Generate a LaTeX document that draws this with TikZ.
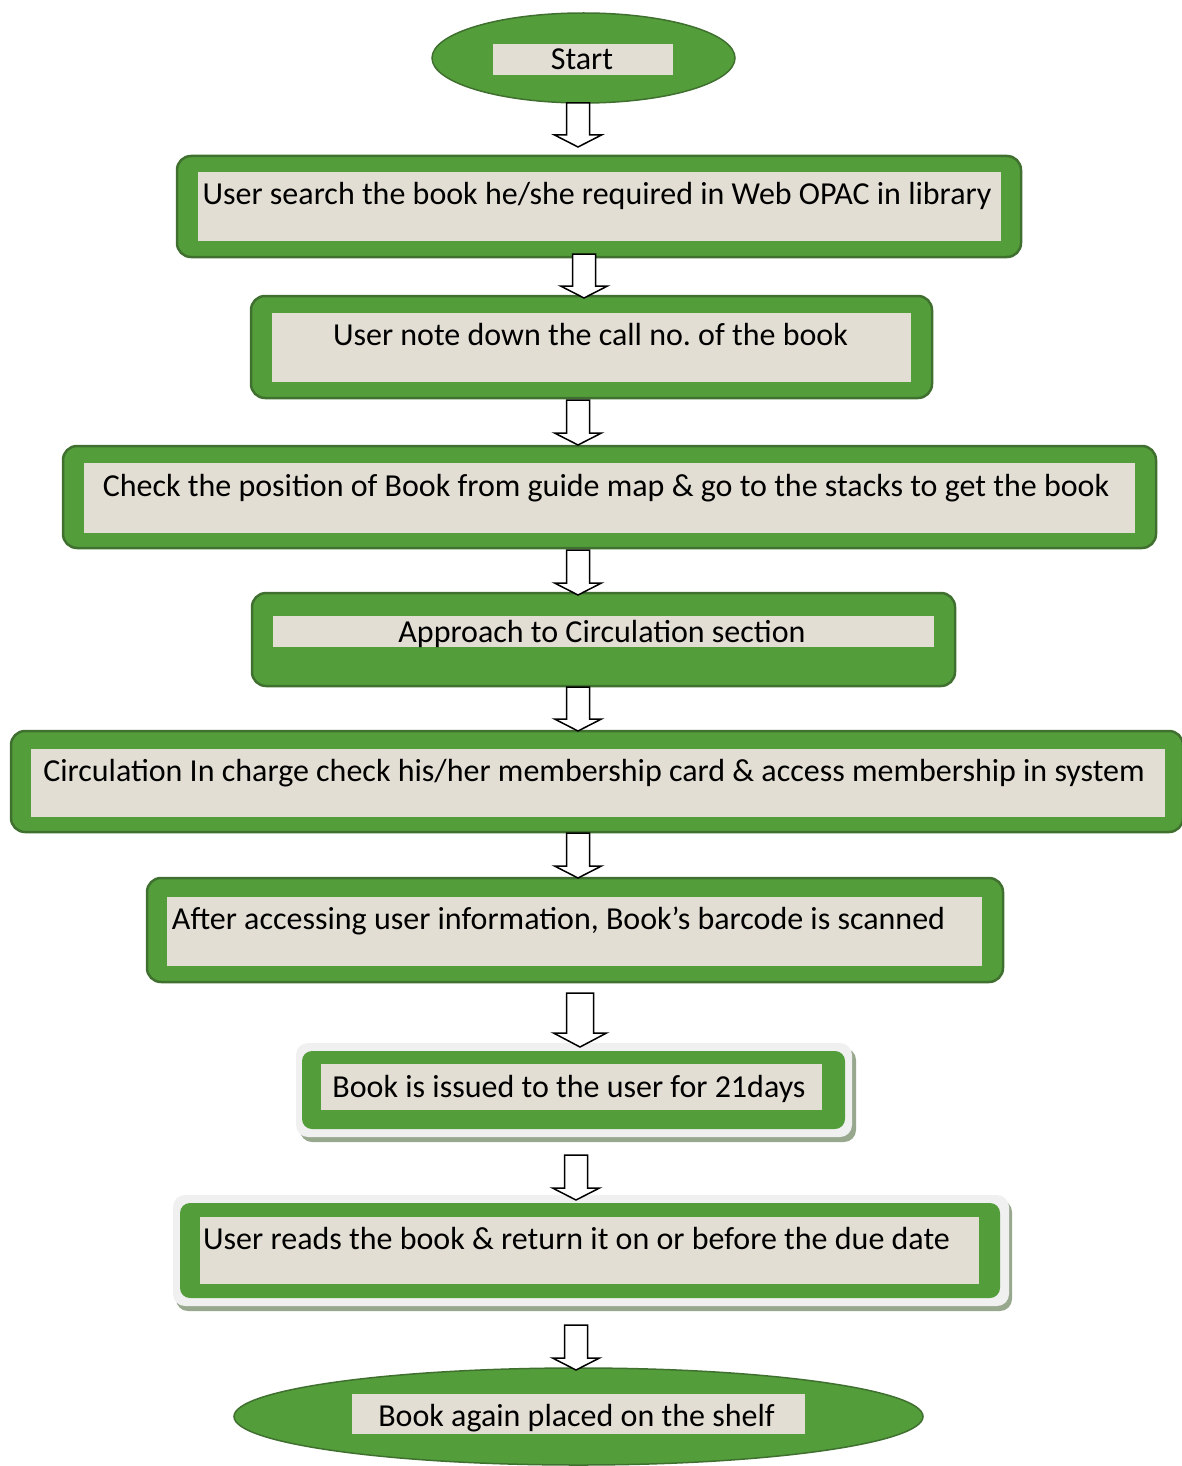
\documentclass[tikz,border=0pt]{standalone}
\usepackage{fontspec}
\setmainfont{Carlito}
\frenchspacing
\usetikzlibrary{shapes.geometric,calc}
\definecolor{gfill}{RGB}{83,158,58}
\definecolor{gline}{RGB}{64,112,48}
\definecolor{beige}{RGB}{227,222,211}
\definecolor{framec}{RGB}{240,240,240}
\definecolor{shadowc}{RGB}{152,168,142}
\tikzset{
 outerbox/.style={draw=gline, fill=gfill, line width=2.5pt, rounded corners=14pt, inner sep=0pt, outer sep=0pt},
 ovalbox/.style={ellipse, draw=gline, fill=gfill, line width=1.5pt, inner sep=0pt, outer sep=0pt},
 innerbox/.style={fill=beige, inner sep=0pt, outer sep=0pt},
 framebox/.style={fill=framec, rounded corners=12pt, inner sep=0pt, outer sep=0pt},
 shadowbox/.style={fill=shadowc, rounded corners=12pt, inner sep=0pt, outer sep=0pt},
 greenbox/.style={fill=gfill, rounded corners=10pt, inner sep=0pt, outer sep=0pt},
 txt/.style={anchor=base, inner sep=0pt, font=\fontsize{32}{38}\selectfont},
 blk/.style={draw=black, fill=white, line width=1.5pt, line join=miter},
}
% #1 from node, #2 to node, #3 x, #4 top shift (px down), #5 tip shift (px down),
% #6 shaft half width, #7 head half width, #8 head height
\newcommand\blockarr[8]{%
 \draw[blk] let \p1=(#1.south), \p2=(#2.north) in
 ({#3pt-#6pt},{\y1-(#4pt)}) -- ({#3pt+#6pt},{\y1-(#4pt)})
 -- ({#3pt+#6pt},{\y2-(#5pt)+#8pt}) -- ({#3pt+#7pt},{\y2-(#5pt)+#8pt})
 -- ({#3pt},{\y2-(#5pt)}) -- ({#3pt-#7pt},{\y2-(#5pt)+#8pt})
 -- ({#3pt-#6pt},{\y2-(#5pt)+#8pt}) -- cycle;}
\begin{document}
\begin{tikzpicture}[x=1pt,y=-1pt]
\useasboundingbox (0,0) rectangle (1181,1466);

% Start
\node[ovalbox, minimum width=303pt, minimum height=90pt] (s) at (583.5,58) {};
\node[innerbox, minimum width=180pt, minimum height=31pt] (si) at (583,59.5) {};
\node[txt] (st) at (582,70) {Start};

% Box 1
\node[outerbox, minimum width=844pt, minimum height=101pt] (b1) at (599,206.5) {};
\node[innerbox, minimum width=803pt, minimum height=69pt] (b1i) at (599.5,206.5) {};
\node[txt] (t1) at (597,204.5) {User search the book he/she required in Web OPAC in library};

% Box 2
\node[outerbox, minimum width=681pt, minimum height=102pt] (b2) at (591.5,347) {};
\node[innerbox, minimum width=639pt, minimum height=69pt] (b2i) at (591.5,347.5) {};
\node[txt] (t2) at (590.5,345.5) {User note down the call no. of the book};

% Box 3
\node[outerbox, minimum width=1093pt, minimum height=102pt] (b3) at (609.5,497) {};
\node[innerbox, minimum width=1051pt, minimum height=70pt] (b3i) at (609.5,498) {};
\node[txt] (t3) at (606,496.5) {Check the position of Book from guide map \& go to the stacks to get the book};

% Box 4
\node[outerbox, minimum width=703pt, minimum height=93pt] (b4) at (603.5,639.5) {};
\node[innerbox, minimum width=661pt, minimum height=31pt] (b4i) at (603.5,631.5) {};
\node[txt] (t4) at (602,642) {Approach to Circulation section};

% Box 5
\node[outerbox, minimum width=1172pt, minimum height=101pt] (b5) at (597,781.5) {};
\node[innerbox, minimum width=1134pt, minimum height=68pt] (b5i) at (598,783) {};
\node[txt] (t5) at (594,781.5) {Circulation In charge check his/her membership card \& access membership in system};

% Box 6
\node[outerbox, minimum width=856pt, minimum height=104pt] (b6) at (575,930) {};
\node[innerbox, minimum width=815pt, minimum height=69pt] (b6i) at (574.5,931.5) {};
\node[txt] (t6) at (558.5,929.5) {After accessing user information, Book’s barcode is scanned};

% Box 7
\node[shadowbox, minimum width=556pt, minimum height=94pt] (b7s) at (578,1095) {};
\node[framebox, minimum width=556pt, minimum height=94pt] (b7f) at (574,1090) {};
\node[greenbox, minimum width=543pt, minimum height=78pt] (b7) at (573.5,1090) {};
\node[innerbox, minimum width=501pt, minimum height=46pt] (b7i) at (571.5,1087) {};
\node[txt] (t7) at (569,1097) {Book is issued to the user for 21days};

% Box 8
\node[shadowbox, minimum width=836pt, minimum height=111pt] (b8s) at (594,1255.5) {};
\node[framebox, minimum width=836pt, minimum height=111pt] (b8f) at (591,1250.5) {};
\node[greenbox, minimum width=820pt, minimum height=95pt] (b8) at (590,1250.5) {};
\node[innerbox, minimum width=779pt, minimum height=67pt] (b8i) at (589.5,1250.5) {};
\node[txt] (t8) at (576.5,1249.5) {User reads the book \& return it on or before the due date};

% End
\node[ovalbox, minimum width=689pt, minimum height=97pt] (e) at (578.5,1416.5) {};
\node[innerbox, minimum width=453pt, minimum height=40pt] (ei) at (578.5,1414) {};
\node[txt] (et) at (576.5,1426) {Book again placed on the shelf};

% Arrows
\blockarr{s}{b1}{578}{0}{-9}{11.5}{23.5}{12}
\blockarr{b1}{b2}{584}{-3}{2}{11.5}{23.5}{12}
\blockarr{b2}{b3}{578}{2}{-1}{11.5}{23.5}{12}
\blockarr{b3}{b4}{578}{2}{2}{11.5}{23.5}{12}
\blockarr{b4}{b5}{578}{1}{0}{11.5}{23.5}{12}
\blockarr{b5}{b6}{578}{1}{0}{11.5}{23.5}{12}
\blockarr{b6}{b7}{580}{11}{-4}{13.5}{26.5}{14}
\blockarr{b7}{b8}{576}{26}{-3}{11.5}{23.5}{12}
\blockarr{b8}{e}{576}{27}{2}{11.5}{23.5}{12}
\end{tikzpicture}
\end{document}
